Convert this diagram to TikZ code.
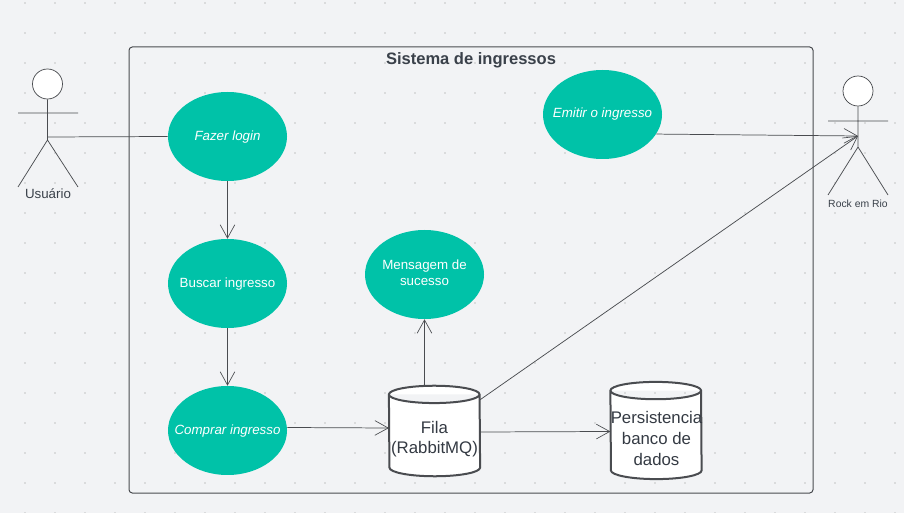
\documentclass[tikz,border=0pt]{standalone}
\usepackage{fontspec}
\setmainfont{Liberation Sans}
\usetikzlibrary{arrows.meta,shapes.geometric}
\definecolor{paper}{HTML}{F2F3F5}
\definecolor{usecase}{HTML}{00C2A8}
\definecolor{ink}{HTML}{4A4C50}
\definecolor{slate}{HTML}{3A414A}

\newcommand{\storeBody}[1]{
    \draw[draw=ink, line width=1.5pt, fill=white]
        ([yshift=-6.5pt]#1.north west) arc[start angle=180, end angle=0, x radius=34pt, y radius=6.5pt]
        -- ([yshift=6.5pt]#1.south east) arc[start angle=0, end angle=-180, x radius=34pt, y radius=6.5pt]
        -- cycle
        ([yshift=-6.5pt]#1.north west) arc[start angle=180, end angle=360, x radius=34pt, y radius=6.5pt]
    ;
}

\begin{document}
\begin{tikzpicture}[x=0.75pt,y=-0.75pt,
        line/.style={draw=ink, line width=0.55pt},
        flow/.style={line, -{Straight Barb[length=10pt,width=11pt,line width=0.5pt]}},
        uc/.style={ellipse, fill=usecase, text=white, inner xsep=-25pt, inner ysep=0pt,
                        text height=8.5pt, text depth=2pt,
                        minimum width=89.25pt, minimum height=66.75pt, font=\fontsize{10}{12}\selectfont, align=center},
        store/.style={rectangle, inner sep=0pt, minimum width=68pt,
                        text=slate!90!black, font=\fontsize{12.6}{15.5}\selectfont, align=center},
        head/.style={circle, draw=ink, line width=0.55pt, fill=white,
                        inner sep=0pt, minimum width=22.5pt}]
        \path[use as bounding box, fill=paper] (0,0) rectangle (904,513);
        \fill[black!45]
            \foreach \x in {25,55,...,895} {
                \foreach \y in {3,33,...,513} {
                    (\x,\y) circle (0.4pt)
                }
            }
        ;

        % system frame
        \node[draw=ink, line width=0.75pt, rounded corners=2.5pt, minimum width=513pt, minimum height=334.5pt,
                inner sep=0pt] (sistema) at (471,270) {};
        \node[font=\bfseries\fontsize{12.4}{14}\selectfont, text=slate] (titulo) at (471,60) {Sistema de ingressos};

        % use cases
        \node[uc] (login) at (227.5,136.5) {\itshape Fazer login};
        \node[uc] (buscar) at (227.5,283.5) {Buscar ingresso};
        \node[uc] (comprar) at (227.5,430.5) {\itshape Comprar ingresso};
        \node[uc, text height=19pt] (mensagem) at (424.5,274.5) {Mensagem de\\sucesso};
        \node[uc, text depth=3.5pt] (emitir) at (602.5,114.5) {\itshape Emitir o ingresso};

        % stores
        \node[store, minimum height=67.5pt] (fila) at (434.5,431) {};
        \storeBody{fila}
        \node[store] (filaText) at (434.5,439) {Fila\\(RabbitMQ)};
        \node[store, minimum height=72.5pt] (banco) at (656,430.5) {};
        \storeBody{banco}
        \node[store] (bancoText) at (656.5,438.5) {Persistencia\\banco de\\dados};

        % actors
        \node[head] (usuario) at (47.5,84) {};
        \coordinate (usuarioHub) at (47.5,137);
        \coordinate (usuarioHip) at (47.5,140);
        \draw[line]
            (usuario) -- (usuarioHip)
            (18,113) -- (78,113)
            (usuarioHip) -- (18,187)
            (usuarioHip) -- (78,187)
        ;
        \node[font=\fontsize{10}{12}\selectfont, text=slate] (usuarioLabel) at (48,194) {Usuário};

        \node[head] (rock) at (858,91) {};
        \coordinate (rockHub) at (858,136);
        \coordinate (rockHip) at (858,147);
        \draw[line]
            (rock) -- (rockHip)
            (828,121) -- (888,121)
            (rockHip) -- (828,195)
            (rockHip) -- (888,195)
        ;
        \node[font=\fontsize{7.8}{9}\selectfont, text=slate] (rockLabel) at (858,204) {Rock em Rio};

        % connectors
        \draw[line] (usuarioHub) -- (login.west);
        \draw[flow] (login) -- (buscar);
        \draw[flow] (buscar) -- (comprar);
        \draw[flow] ([yshift=2.25pt]comprar.east) -- ([yshift=2.25pt]fila.west);
        \draw[flow] (fila.north -| mensagem.south) -- (mensagem.south);
        \draw[flow] ([yshift=-0.75pt]fila.east) -- ([yshift=-0.75pt]banco.west);
        \draw[flow] ([yshift=-10.5pt]fila.north east) -- (rockHub);
        \draw[flow] (emitir.-20) -- (rockHub);
    \end{tikzpicture}
\end{document}
